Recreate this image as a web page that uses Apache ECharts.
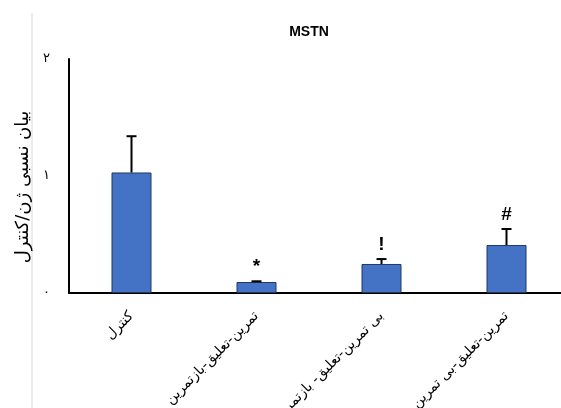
<!DOCTYPE html>
<html><head><meta charset="utf-8">
<script src="https://cdn.jsdelivr.net/npm/echarts@6/dist/echarts.min.js"></script>
<style>html,body{margin:0;padding:0;background:#fff}#c{width:561px;height:408px}</style>
</head><body><div id="c"></div>
<script>
const categories = ['کنترل', 'تمرین-تعلیق-بازتمرین', 'بی تمرین-تعلیق- بازتمرین', 'تمرین-تعلیق-بی تمرین'];
const means = [1.03, 0.094, 0.248, 0.41];
const errTops = [1.34, 0.10, 0.29, 0.547];
const markers = ['', '*', '!', '#'];
const yTickLabels = {0: '۰', 1: '۱', 2: '۲'};
const yAxisTitle = 'بیان نسبی ژن/کنترل';
const chartTitle = 'MSTN';

const chart = echarts.init(document.getElementById('c'));
chart.setOption({
  animation: false,
  backgroundColor: '#fff',
  title: {text: chartTitle, left: 304, top: 20, textAlign: 'center',
    textStyle: {fontFamily: 'Liberation Sans', fontSize: 14, fontWeight: 'bold', color: '#000'}},
  grid: {left: 69, width: 500, top: 59, bottom: 115, containLabel: false, outerBoundsMode: 'none'},
  graphic: [{type: 'line', shape: {x1: 32, y1: 13, x2: 32, y2: 408}, style: {stroke: '#d9d9d9', lineWidth: 1}}],
  xAxis: {type: 'category', data: categories,
    axisLine: {lineStyle: {color: '#000', width: 2}},
    axisTick: {show: false},
    axisLabel: {rotate: 45, interval: 0, margin: 21, fontFamily: 'DejaVu Sans', fontSize: 14, color: '#000'}},
  yAxis: {type: 'value', min: 0, max: 2, interval: 1,
    name: yAxisTitle, nameLocation: 'middle', nameGap: 37, nameRotate: 90,
    nameTextStyle: {fontFamily: 'DejaVu Sans', fontSize: 18, color: '#000', padding: [0, 22, 0, 0]},
    axisLine: {show: true, lineStyle: {color: '#000', width: 2}},
    axisTick: {show: false}, splitLine: {show: false},
    axisLabel: {margin: 19, fontFamily: 'DejaVu Sans', fontSize: 13, color: '#000',
      formatter: v => yTickLabels[v] ?? ''}},
  series: [
    {type: 'bar', data: means, barWidth: '32%',
      itemStyle: {color: '#4472C4', borderColor: '#1f3864', borderWidth: 1}},
    {type: 'custom', data: categories.map((c, i) => [i, means[i], errTops[i]]),
      z: 10,
      renderItem: (params, api) => {
        const i = api.value(0);
        const base = api.coord([i, api.value(1)]);
        const top = api.coord([i, api.value(2)]);
        const children = [
          {type: 'line', shape: {x1: base[0], y1: base[1], x2: top[0], y2: top[1]}, style: {stroke: '#000', lineWidth: 2}},
          {type: 'line', shape: {x1: top[0] - 5, y1: top[1], x2: top[0] + 5, y2: top[1]}, style: {stroke: '#000', lineWidth: 2}}
        ];
        const m = markers[i];
        if (m) children.push({type: 'text', x: top[0], y: top[1] - 5,
          style: {text: m, textAlign: 'center', textVerticalAlign: 'bottom',
            font: 'bold 19px "Liberation Sans"', fill: '#000'}});
        return {type: 'group', children};
      }}
  ]
});
</script></body></html>
